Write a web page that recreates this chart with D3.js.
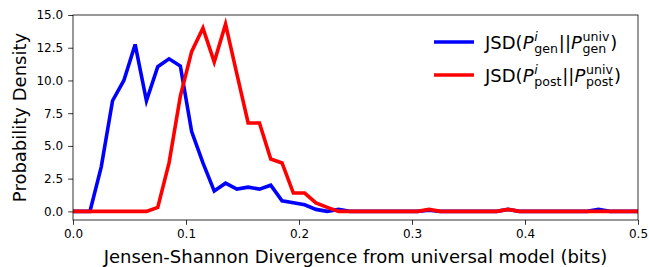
<!DOCTYPE html>
<html>
<head>
<meta charset="utf-8">
<script src="https://cdn.jsdelivr.net/npm/d3@7"></script>
<style>
body { margin: 0; background: #fff; }
text { font-family: "DejaVu Sans", sans-serif; fill: #000; }
</style>
</head>
<body>
<div id="chart-area"></div>
<script>
// histogram bin centres (bits), bin width 0.01
var binCenters = d3.range(52).map((i) => +(-0.005 + 0.01 * i).toFixed(3));

var genDensity = [0, 0, 0, 3.4, 8.45, 10.0, 12.75, 8.45, 11.05, 11.65, 11.1, 6.1, 3.7, 1.55, 2.15, 1.7,
    1.85, 1.7, 2.0, 0.8, 0.65, 0.5, 0.15, 0, 0.15, 0,
    0, 0, 0, 0, 0, 0, 0.08, 0, 0, 0, 0, 0, 0, 0.15,
    0, 0, 0, 0, 0, 0, 0, 0.15, 0, 0, 0, 0];

var postDensity = [0, 0, 0, 0, 0, 0, 0, 0, 0.3, 3.7, 8.8, 12.2, 14.0, 11.4, 14.3, 10.5,
    6.75, 6.75, 4.0, 3.7, 1.4, 1.4, 0.65, 0.3, 0, 0,
    0, 0, 0, 0, 0, 0, 0.15, 0, 0, 0, 0, 0, 0, 0.15,
    0, 0, 0, 0, 0, 0, 0, 0, 0, 0, 0, 0];

var xTicks = [0, 0.1, 0.2, 0.3, 0.4, 0.5];
var yTicks = [0, 2.5, 5, 7.5, 10, 12.5, 15];

var width = 649, height = 267;
var margin = {left: 73, right: 11, top: 15, bottom: 47};

var svg = d3.select("#chart-area").append("svg")
    .attr("width", width)
    .attr("height", height);

var x = d3.scaleLinear().domain([0, 0.5]).range([margin.left, width - margin.right]);
var y = d3.scaleLinear().domain([-0.66, 15]).range([height - margin.bottom, margin.top]);

svg.append("clipPath").attr("id", "clip")
    .append("rect")
    .attr("x", x(0)).attr("y", y(15))
    .attr("width", x(0.5) - x(0)).attr("height", y(-0.66) - y(15));

var line = d3.line()
    .x((d, i) => x(binCenters[i]))
    .y((d) => y(d));

var series = [
    {vals: genDensity, color: "#0000ff"},
    {vals: postDensity, color: "#ff0000"}
];

svg.append("g").attr("clip-path", "url(#clip)")
    .selectAll("path")
    .data(series)
    .enter()
    .append("path")
        .attr("d", (d) => line(d.vals))
        .attr("fill", "none")
        .attr("stroke", (d) => d.color)
        .attr("stroke-width", 3.6)
        .attr("stroke-linejoin", "miter");

// axes
var xAxis = d3.axisBottom(x).tickValues(xTicks).tickFormat(d3.format(".1f")).tickSize(4.8).tickPadding(4.5);
var yAxis = d3.axisLeft(y).tickValues(yTicks).tickFormat(d3.format(".1f")).tickSize(4.8).tickPadding(5);

var gx = svg.append("g").attr("transform", "translate(0," + y(-0.66) + ")").call(xAxis);
var gy = svg.append("g").attr("transform", "translate(" + x(0) + ",0)").call(yAxis);

[gx, gy].forEach((g) => {
    g.select(".domain").remove();
    g.selectAll(".tick line").attr("stroke", "#000").attr("stroke-width", 0.8);
    g.selectAll(".tick text").attr("font-size", 12).attr("font-family", "DejaVu Sans").attr("fill", "#000");
});

// frame
svg.append("rect")
    .attr("x", x(0)).attr("y", y(15))
    .attr("width", x(0.5) - x(0)).attr("height", y(-0.66) - y(15))
    .attr("fill", "none")
    .attr("stroke", "#000")
    .attr("stroke-width", 0.8);

// labels
svg.append("text")
    .attr("x", (x(0) + x(0.5)) / 2)
    .attr("y", 263)
    .attr("text-anchor", "middle")
    .attr("font-size", 18)
    .text("Jensen-Shannon Divergence from universal model (bits)");

svg.append("text")
    .attr("transform", "translate(26," + ((y(15) + y(-0.66)) / 2) + ") rotate(-90)")
    .attr("text-anchor", "middle")
    .attr("font-size", 18)
    .text("Probability Density");

// legend with math-style labels
var fs = 18, small = 12.6;
function mathLabel(g, x0, y0, parts) {
    var cx = x0;
    parts.forEach((p) => {
        if (p.stack) {
            var t1 = g.append("text").attr("x", cx).attr("y", y0 - 7.6)
                .attr("font-size", small).attr("font-style", p.supItalic ? "italic" : "normal").text(p.sup);
            var t2 = g.append("text").attr("x", cx).attr("y", y0 + 4.2)
                .attr("font-size", small).text(p.sub);
            var w1 = t1.node().getComputedTextLength();
            var w2 = t2.node().getComputedTextLength();
            cx += Math.max(w1, w2) + 0.8;
        } else {
            var t = g.append("text").attr("x", cx).attr("y", y0)
                .attr("font-size", fs).attr("font-style", p.italic ? "italic" : "normal").text(p.t);
            cx += t.node().getComputedTextLength() + (p.italic ? 0.8 : 0);
        }
    });
}

function jsdParts(name) {
    return [
        {t: "JSD("}, {t: "P", italic: true}, {stack: true, sup: "i", supItalic: true, sub: name},
        {t: "||"}, {t: "P", italic: true}, {stack: true, sup: "univ", sub: name}, {t: ")"}
    ];
}

var legendItems = [
    {color: "#0000ff", parts: jsdParts("gen"), ly: 42},
    {color: "#ff0000", parts: jsdParts("post"), ly: 75}
];

var legend = svg.append("g");
legendItems.forEach((d) => {
    legend.append("line")
        .attr("x1", 434).attr("x2", 474)
        .attr("y1", d.ly).attr("y2", d.ly)
        .attr("stroke", d.color)
        .attr("stroke-width", 3.6);
    mathLabel(legend, 485, d.ly + 6.5, d.parts);
});
</script>
</body>
</html>
